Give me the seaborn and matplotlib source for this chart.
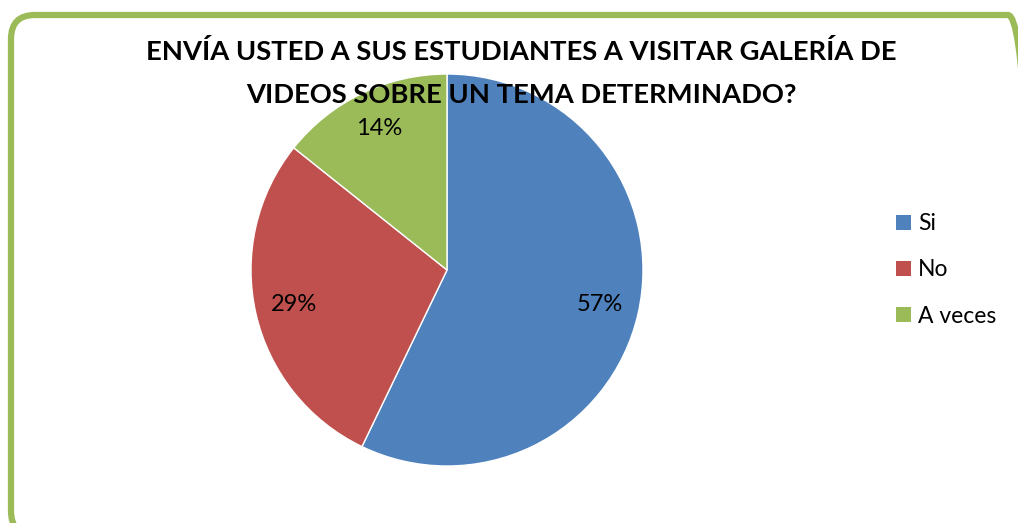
import matplotlib
matplotlib.use("Agg")
import matplotlib.pyplot as plt
import seaborn as sns
from matplotlib.patches import FancyBboxPatch, Patch

categories = ["Si", "No", "A veces"]
values = [4, 2, 1]
colors = ["#4F81BD", "#C0504D", "#9BBB59"]
title_lines = ["ENVÍA USTED A SUS ESTUDIANTES A VISITAR GALERÍA DE",
               "VIDEOS SOBRE UN TEMA DETERMINADO?"]

sns.set_theme(style="white")
plt.rcParams['font.family'] = ['Lato', 'DejaVu Sans']
plt.rcParams['text.color'] = 'black'

W, H = 1018, 523
fig = plt.figure(figsize=(W / 100, H / 100), dpi=100)
fig.patch.set_facecolor("white")

ax = fig.add_axes([0, 0, 1, 1])

wedges, texts, autotexts = ax.pie(values, colors=colors, startangle=90, counterclock=False,
                                  center=(447, H - 270), radius=196,
                                  autopct=lambda p: f"{p:.0f}%", pctdistance=0.8,
                                  textprops=dict(fontsize=17, color="black"),
                                  wedgeprops=dict(edgecolor="white", linewidth=1),
                                  frame=True)
ax.set_xlim(0, W)
ax.set_ylim(0, H)
ax.set_axis_off()
ax.set_aspect("equal")

# rounded border (pixel-like data coordinates)
border = FancyBboxPatch((11, H - 535), 1032 - 11, 535 - 15,
                        boxstyle="round,pad=0,rounding_size=24",
                        facecolor="none", edgecolor="#9BBB59", linewidth=4.5,
                        clip_on=False, zorder=0)
ax.add_patch(border)

for line, y in zip(title_lines, [52, 95]):
    fig.text(521 / W, 1 - y / H, line, ha="center", va="center", fontsize=19.7,
             fontweight="bold", color="black")

handles = [Patch(facecolor=c, edgecolor="none", label=l) for c, l in zip(colors, categories)]
fig.legend(handles=handles, loc="center left", bbox_to_anchor=(896 / W, 1 - 270 / H),
           frameon=False, fontsize=16.5, handlelength=0.65, handleheight=0.65,
           handletextpad=0.3, labelspacing=1.1, borderpad=0, borderaxespad=0,
           labelcolor="black")

fig.savefig("out.png", dpi=100)
